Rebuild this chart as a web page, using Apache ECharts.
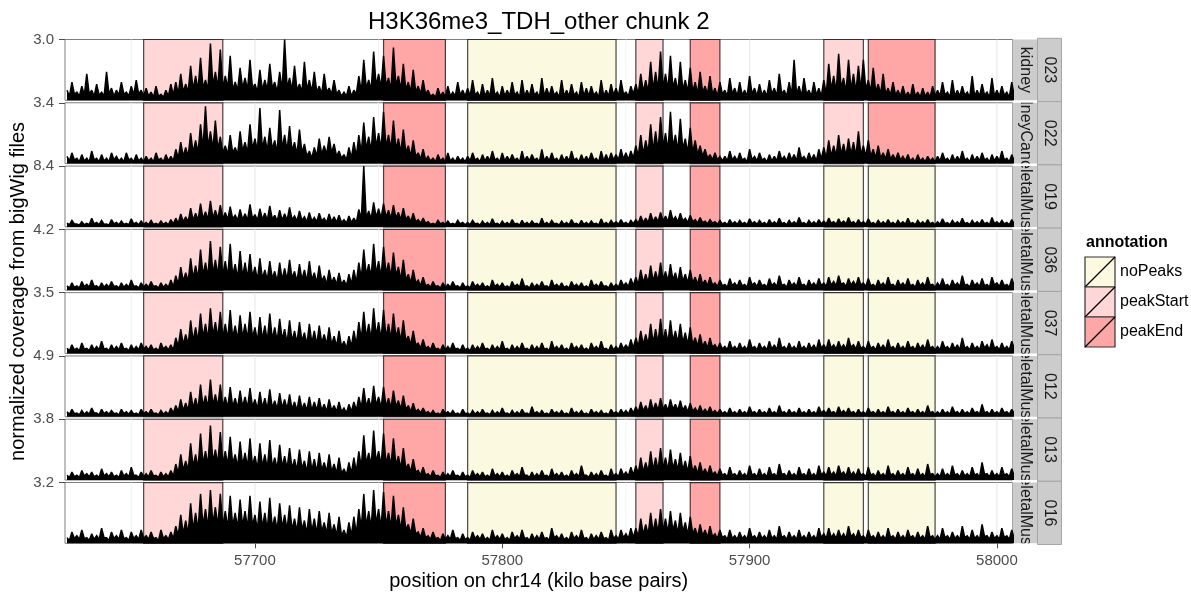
<!DOCTYPE html>
<html><head><meta charset="utf-8">
<script src="https://cdn.jsdelivr.net/npm/echarts@6/dist/echarts.min.js"></script>
<style>html,body{margin:0;padding:0;background:#fff}#c{width:1191px;height:592px}</style>
</head><body><div id="c"></div>
<script>
// ---------------- data ----------------
const chartTitle = 'H3K36me3_TDH_other chunk 2';
const xTitle = 'position on chr14 (kilo base pairs)';
const yTitle = 'normalized coverage from bigWig files';
const sampleIds = ['023','022','019','036','037','012','013','016'];
const tissues = ['kidney','kidneyCancer','skeletalMuscle','skeletalMuscle','skeletalMuscle','skeletalMuscle','skeletalMuscle','skeletalMuscle'];
const yMax = [3.0, 3.4, 8.4, 4.2, 3.5, 4.9, 3.8, 3.2];
const yTickLabels = ['3.0','3.4','8.4','4.2','3.5','4.9','3.8','3.2'];
const xTicks = [57700, 57800, 57900, 58000];
const xMinorGrid = [57650, 57750, 57850, 57950];
const peakStart0 = 57624, troughStart0 = 57625, binStep = 2; // kb positions of local peaks / troughs

const annoStart = [57655, 57752, 57786, 57854, 57876, 57930, 57948];
const annoEnd   = [57687, 57777, 57846, 57865, 57888, 57946, 57975];
const annoKidney = ['peakStart','peakEnd','noPeaks','peakStart','peakEnd','peakStart','peakEnd'];
const annoMuscle = ['peakStart','peakEnd','noPeaks','peakStart','peakEnd','noPeaks','noPeaks'];
const legendNames = ['noPeaks','peakStart','peakEnd'];

// local peak values (every 2 kb)
const cov023 = [0.5,0.9,0.4,0.7,1.3,0.5,0.8,0.4,1.4,0.6,0.5,0.9,0.4,0.7,1.0,0.5,
 0.6,0.4,0.7,0.3,0.5,0.8,
 0.9,1.3,0.8,1.7,1.2,2.1,1.0,2.8,1.4,2.5,
 1.2,2.2,0.9,1.6,1.1,2.0,0.8,1.5,1.0,1.8,0.9,1.4,3.0,1.1,1.7,0.8,1.9,1.0,1.4,0.7,1.3,0.6,1.0,0.5,
 0.4,0.7,0.5,
 1.2,2.0,1.0,2.4,1.3,2.2,1.1,2.6,1.2,1.8,0.9,1.5,0.7,1.0,
 0.5,0.3,0.6,0.4,0.7,0.4,0.9,0.5,
 0.6,1.0,0.4,0.8,0.5,1.1,0.4,0.7,0.5,0.9,0.4,1.0,0.5,0.8,0.4,1.1,0.6,0.7,0.4,1.0,0.5,0.8,0.4,0.9,0.6,0.7,0.4,1.0,0.5,0.8,
 0.6,1.0,0.4,0.7,
 0.8,1.3,1.0,1.9,1.4,
 2.4,1.3,2.2,1.1,1.9,1.0,1.6,
 0.9,1.4,0.7,1.2,0.6,0.9,
 0.5,1.1,0.6,0.9,0.5,1.2,0.6,0.8,0.5,1.0,0.6,1.3,0.5,0.9,2.0,0.7,1.1,0.5,0.9,0.6,
 1.0,1.8,1.2,2.3,1.1,2.0,1.3,1.7,
 2.0,1.0,1.6,0.8,1.3,0.6,0.9,0.5,0.7,0.4,0.8,0.4,0.6,0.4,0.7,
 0.5,0.9,0.4,1.0,0.5,0.7,0.4,1.2,0.5,0.8,0.4,1.1,0.5,0.7,0.4,0.9];
const cov022 = [0.4,0.6,0.3,0.5,0.3,0.7,0.3,0.5,0.3,0.6,0.4,0.3,0.6,0.3,0.5,0.3,
 0.4,0.3,0.6,0.3,0.5,0.4,
 0.8,1.2,0.9,1.7,1.3,2.2,3.2,1.8,2.4,1.5,
 1.0,1.6,0.9,1.8,1.2,2.2,1.4,3.1,1.5,2.0,1.3,3.0,1.6,2.1,1.2,1.9,1.1,0.7,0.9,1.4,1.0,1.5,1.1,0.7,
 0.5,0.9,1.2,
 1.6,2.3,1.5,2.6,1.7,2.9,1.6,2.4,1.4,1.9,1.0,1.3,0.6,0.8,
 0.4,0.3,0.5,0.3,0.6,0.3,0.4,0.3,
 0.4,0.6,0.3,0.5,0.4,0.7,0.3,0.6,0.4,0.5,0.3,0.7,0.4,0.5,0.3,0.8,0.4,0.6,0.3,0.5,0.4,0.7,0.3,0.5,0.4,0.6,0.3,0.7,0.5,0.6,
 0.5,0.8,0.6,0.7,
 1.0,1.6,1.3,2.2,1.8,
 2.6,1.7,2.9,1.6,2.5,1.4,2.0,
 1.3,1.0,0.8,0.5,0.6,0.4,
 0.4,0.7,0.4,0.6,0.3,0.8,0.4,0.6,0.3,0.5,0.4,0.7,0.4,0.6,0.5,0.9,0.4,0.6,0.5,0.8,
 0.9,1.3,1.0,1.6,1.1,1.4,1.2,1.8,
 1.0,1.3,0.8,1.0,0.6,0.8,0.5,0.6,0.4,0.5,0.3,0.5,0.3,0.4,0.3,
 0.4,0.6,0.3,0.5,0.4,0.7,0.3,0.5,0.4,0.6,0.3,0.5,0.4,0.7,0.3,0.5];
const cov019 = [0.5,0.9,0.4,0.7,0.5,1.2,0.6,0.9,0.4,1.0,0.6,0.8,0.5,1.1,0.6,0.8,
 0.6,0.9,0.5,0.8,0.6,1.0,
 1.2,1.8,1.4,2.6,1.9,3.2,2.1,3.6,2.3,3.0,
 2.0,2.8,1.6,2.4,1.8,3.1,1.7,2.5,1.9,2.9,1.6,2.3,1.8,2.7,1.5,2.2,1.4,2.0,1.3,1.9,1.2,1.8,1.4,1.6,
 1.0,1.5,1.2,
 2.4,8.4,2.2,3.4,2.5,3.2,2.3,3.0,2.0,2.6,1.5,1.9,1.0,1.2,
 0.7,0.5,0.9,0.6,0.8,0.5,0.9,0.6,
 0.6,0.9,0.5,0.8,0.6,1.1,0.5,0.8,0.6,1.0,0.5,0.9,0.6,0.8,0.5,1.2,0.6,0.9,0.5,0.8,0.6,1.0,0.5,0.9,0.6,0.8,0.5,1.1,0.6,0.9,
 0.7,1.0,0.6,0.9,
 1.0,1.5,1.2,1.9,1.4,
 2.0,1.5,2.3,1.4,1.9,1.2,1.6,
 1.0,1.3,0.8,1.0,0.7,0.9,
 0.6,1.0,0.7,0.9,0.6,1.1,0.7,0.9,0.6,1.0,0.7,1.2,0.6,0.9,0.7,1.3,0.6,0.9,0.7,1.0,
 0.8,1.2,0.7,1.1,0.8,1.3,0.7,1.0,
 0.7,1.1,0.6,0.9,0.7,1.0,0.6,0.9,0.7,1.2,0.6,0.9,0.7,1.0,0.6,
 0.7,1.1,0.6,0.9,0.7,1.2,0.6,0.9,0.7,1.0,0.6,1.3,0.7,0.9,0.6,1.0];
const cov036 = [0.3,0.5,0.3,0.6,0.4,0.7,0.3,0.5,0.4,0.6,0.3,0.5,0.4,0.7,0.3,0.5,
 0.4,0.6,0.3,0.5,0.4,0.7,
 1.0,1.6,1.2,2.2,1.7,2.8,1.9,3.4,2.1,3.0,
 2.0,3.2,1.8,2.7,1.9,2.5,1.6,2.2,1.4,2.0,1.3,1.9,1.5,2.1,1.3,1.8,1.4,2.0,1.2,1.7,1.0,1.4,0.9,1.2,
 0.7,1.1,1.4,
 1.9,2.8,1.8,3.2,2.0,3.0,1.9,2.6,1.6,2.1,1.1,1.4,0.7,0.9,
 0.4,0.6,0.3,0.5,0.4,0.6,0.3,0.5,
 0.3,0.6,0.4,0.5,0.3,0.7,0.4,0.5,0.3,0.6,0.4,0.8,0.3,0.5,0.4,0.6,0.3,0.7,0.4,0.5,0.3,0.6,0.4,0.5,0.3,0.7,0.4,0.6,0.3,0.5,
 0.4,0.7,0.5,0.8,
 0.9,1.4,1.1,1.7,1.3,
 1.9,1.3,1.8,1.2,1.6,1.1,1.4,
 0.9,1.1,0.7,0.9,0.5,0.7,
 0.4,0.8,0.5,0.7,0.4,0.9,0.5,0.7,0.4,0.8,0.5,1.0,0.4,0.7,0.5,0.9,0.4,0.7,0.5,0.8,
 0.5,0.9,0.6,1.0,0.5,0.8,0.6,0.9,
 0.5,0.8,0.4,0.7,0.5,0.9,0.4,0.7,0.5,0.8,0.4,0.7,0.5,0.9,0.4,
 0.5,0.8,0.4,0.7,0.5,1.0,0.4,0.7,0.5,0.8,0.4,0.9,0.5,0.7,0.4,0.8];
const cov037 = [0.3,0.5,0.3,0.6,0.3,0.5,0.4,0.7,0.3,0.5,0.4,0.6,0.3,0.5,0.4,0.6,
 0.4,0.5,0.3,0.6,0.4,0.5,
 0.9,1.4,1.1,1.9,1.5,2.3,1.7,2.6,1.8,2.4,
 1.7,2.5,1.6,2.2,1.7,2.4,1.5,2.1,1.6,2.3,1.5,2.0,1.4,1.9,1.3,1.8,1.2,1.7,1.3,1.6,1.1,1.5,1.0,1.3,
 0.7,1.0,1.3,
 1.8,2.4,1.7,2.6,1.8,2.5,1.7,2.3,1.5,1.9,1.0,1.3,0.6,0.8,
 0.4,0.6,0.3,0.5,0.4,0.6,0.3,0.5,
 0.3,0.5,0.4,0.6,0.3,0.5,0.4,0.7,0.3,0.5,0.4,0.6,0.3,0.5,0.4,0.6,0.3,0.7,0.4,0.5,0.3,0.6,0.4,0.5,0.3,0.6,0.4,0.7,0.3,0.5,
 0.4,0.6,0.5,0.8,
 0.9,1.3,1.1,1.7,1.4,
 2.0,1.4,1.9,1.3,1.7,1.2,1.5,
 0.9,1.1,0.7,0.9,0.5,0.6,
 0.4,0.7,0.4,0.6,0.4,0.8,0.4,0.6,0.4,0.7,0.5,0.9,0.4,0.6,0.4,0.7,0.4,0.6,0.5,0.8,
 0.5,0.8,0.5,0.7,0.5,0.9,0.5,0.7,
 0.4,0.7,0.4,0.6,0.5,0.8,0.4,0.6,0.4,0.7,0.4,0.6,0.5,0.8,0.4,
 0.4,0.7,0.4,0.6,0.5,0.9,0.4,0.6,0.4,0.7,0.5,0.8,0.4,0.6,0.4,0.7];
const cov012 = [0.4,0.6,0.3,0.5,0.4,0.7,0.3,0.6,0.4,0.5,0.3,0.6,0.4,0.5,0.3,0.6,
 0.4,0.6,0.3,0.5,0.4,0.7,
 0.9,1.4,1.1,2.0,1.5,2.6,1.7,3.0,1.8,2.6,
 1.6,2.4,1.5,2.1,1.6,2.3,1.4,2.0,1.5,2.2,1.3,1.9,1.4,1.8,1.2,1.7,1.1,1.6,1.2,1.5,1.0,1.4,0.9,1.2,
 0.7,1.0,1.2,
 1.6,2.3,1.5,2.5,1.6,2.4,1.5,2.1,1.3,1.7,0.9,1.1,0.6,0.7,
 0.4,0.5,0.3,0.6,0.4,0.5,0.3,0.6,
 0.3,0.5,0.4,0.6,0.3,0.5,0.4,0.7,0.3,0.5,0.4,0.6,0.3,0.8,0.4,0.5,0.3,0.6,0.4,0.5,0.3,0.7,0.4,0.5,0.3,0.6,0.4,0.5,0.3,0.6,
 0.4,0.6,0.5,0.7,
 0.8,1.2,0.9,1.4,1.1,
 1.5,1.0,1.4,1.0,1.3,0.9,1.1,
 0.7,0.9,0.6,0.8,0.5,0.6,
 0.4,0.7,0.4,0.6,0.4,0.8,0.4,0.6,0.4,0.7,0.4,0.9,0.4,0.6,0.4,0.7,0.4,0.6,0.4,0.8,
 0.5,0.7,0.4,0.8,0.5,0.7,0.4,0.6,
 0.4,0.7,0.4,0.6,0.4,0.8,0.4,0.6,0.4,0.7,0.4,0.6,0.4,0.9,0.4,
 0.4,0.6,0.4,0.8,0.4,0.6,0.4,0.7,0.4,1.0,0.4,0.6,0.4,0.7,0.4,0.6];
const cov013 = [0.3,0.5,0.3,0.6,0.4,0.5,0.3,0.7,0.4,0.5,0.3,0.6,0.4,0.8,0.3,0.5,
 0.4,0.6,0.3,0.5,0.4,0.6,
 1.0,1.6,1.2,2.3,1.6,2.9,1.8,3.4,1.9,3.0,
 1.8,2.7,1.6,2.4,1.7,2.6,1.5,2.3,1.6,2.5,1.4,2.2,1.5,2.0,1.3,1.9,1.2,1.8,1.3,1.7,1.1,1.6,1.0,1.4,
 0.7,1.1,1.4,
 1.8,2.8,1.7,3.1,1.8,2.9,1.7,2.6,1.5,2.0,1.0,1.3,0.6,0.8,
 0.4,0.6,0.3,0.5,0.4,0.6,0.3,0.5,
 0.3,0.6,0.4,0.5,0.3,0.7,0.4,0.5,0.3,0.6,0.4,0.8,0.3,0.5,0.4,0.6,0.3,0.7,0.4,0.5,0.3,0.6,0.4,0.9,0.3,0.5,0.4,0.6,0.3,0.7,
 0.4,0.7,0.5,0.8,
 0.9,1.4,1.1,1.8,1.4,
 2.0,1.4,1.9,1.3,1.7,1.2,1.5,
 0.9,1.1,0.7,0.9,0.5,0.7,
 0.4,0.8,0.4,0.6,0.4,0.9,0.4,0.7,0.4,0.8,0.4,1.0,0.4,0.6,0.4,0.8,0.4,0.7,0.4,0.9,
 0.5,0.8,0.5,0.9,0.5,0.8,0.5,0.7,
 0.4,0.8,0.4,0.6,0.4,0.9,0.4,0.6,0.4,0.8,0.4,0.7,0.4,1.0,0.4,
 0.4,0.7,0.4,0.9,0.4,0.6,0.4,0.8,0.4,1.1,0.4,0.6,0.4,0.8,0.4,0.7];
const cov016 = [0.3,0.6,0.4,0.7,0.3,0.5,0.4,0.8,0.3,0.6,0.4,0.7,0.3,0.6,0.4,0.7,
 0.4,0.6,0.3,0.7,0.4,0.6,
 0.9,1.5,1.2,2.1,1.6,2.6,1.8,2.8,1.9,2.6,
 1.7,2.5,1.6,2.3,1.7,2.5,1.5,2.2,1.6,2.4,1.4,2.1,1.5,2.0,1.3,1.9,1.2,1.8,1.3,1.7,1.1,1.6,1.0,1.4,
 0.7,1.1,1.4,
 1.8,2.6,1.7,2.8,1.8,2.7,1.7,2.5,1.5,1.9,1.0,1.3,0.6,0.8,
 0.4,0.6,0.3,0.5,0.4,0.7,0.3,0.5,
 0.3,0.6,0.4,0.5,0.3,0.7,0.4,0.5,0.3,0.6,0.4,0.7,0.3,0.5,0.4,0.6,0.3,0.8,0.4,0.5,0.3,0.6,0.4,0.7,0.3,0.5,0.4,0.6,0.3,0.7,
 0.4,0.7,0.5,0.8,
 0.8,1.3,1.0,1.6,1.3,
 1.8,1.3,1.7,1.2,1.6,1.1,1.4,
 0.8,1.0,0.7,0.9,0.5,0.7,
 0.4,0.7,0.4,0.6,0.4,0.8,0.4,0.6,0.4,0.7,0.4,0.9,0.4,0.6,0.4,0.7,0.4,0.6,0.4,0.8,
 0.5,0.8,0.5,0.7,0.5,0.9,0.5,0.7,
 0.4,0.7,0.4,0.6,0.4,0.8,0.4,0.6,0.4,0.7,0.4,0.6,0.4,0.9,0.4,
 0.4,0.8,0.4,0.6,0.4,0.9,0.4,0.7,0.4,1.0,0.4,0.6,0.4,0.8,0.4,0.7];

// local trough values (every 2 kb, offset 1 kb)
const tr023 = [0.2,0.3,0.2,0.25,0.3,0.2,0.25,0.2,0.3,0.2,0.25,0.3,0.2,0.25,0.3,0.2,
 0.2,0.15,0.2,0.15,0.2,0.25,
 0.3,0.4,0.4,0.5,0.5,0.6,0.5,0.7,0.6,0.6,
 0.6,0.5,0.5,0.6,0.5,0.6,0.4,0.5,0.5,0.6,0.4,0.5,0.6,0.5,0.5,0.4,0.5,0.4,0.4,0.3,0.4,0.3,0.3,0.2,
 0.2,0.2,0.3,
 0.4,0.6,0.5,0.7,0.6,0.7,0.5,0.7,0.5,0.5,0.4,0.4,0.3,0.3,
 0.2,0.15,0.2,0.15,0.2,0.2,0.25,0.2,
 0.2,0.25,0.15,0.2,0.2,0.25,0.15,0.2,0.2,0.25,0.15,0.2,0.2,0.25,0.15,0.2,0.2,0.25,0.15,0.2,0.2,0.25,0.15,0.2,0.2,0.25,0.15,0.2,0.2,0.25,
 0.2,0.3,0.2,0.3,
 0.3,0.4,0.4,0.5,0.5,
 0.6,0.5,0.6,0.4,0.5,0.4,0.4,
 0.3,0.4,0.3,0.3,0.2,0.3,
 0.2,0.3,0.2,0.25,0.2,0.3,0.2,0.25,0.2,0.3,0.2,0.3,0.2,0.25,0.3,0.2,0.3,0.2,0.25,0.2,
 0.3,0.5,0.4,0.6,0.4,0.5,0.4,0.5,
 0.5,0.4,0.4,0.3,0.3,0.25,0.25,0.2,0.2,0.15,0.2,0.15,0.2,0.15,0.2,
 0.2,0.25,0.15,0.2,0.2,0.25,0.15,0.2,0.2,0.25,0.15,0.2,0.2,0.25,0.15,0.2];
const tr022 = [0.15,0.2,0.1,0.15,0.1,0.2,0.1,0.15,0.1,0.2,0.15,0.1,0.2,0.1,0.15,0.1,
 0.15,0.1,0.2,0.1,0.15,0.15,
 0.3,0.4,0.4,0.6,0.6,0.8,0.9,0.8,0.8,0.6,
 0.5,0.6,0.5,0.7,0.6,0.8,0.7,0.8,0.7,0.8,0.6,0.8,0.7,0.7,0.5,0.6,0.4,0.3,0.4,0.5,0.5,0.6,0.4,0.3,
 0.2,0.3,0.4,
 0.6,0.8,0.7,0.9,0.8,0.9,0.8,0.8,0.6,0.6,0.4,0.4,0.25,0.2,
 0.15,0.1,0.15,0.1,0.15,0.1,0.15,0.1,
 0.15,0.2,0.1,0.15,0.15,0.2,0.1,0.15,0.15,0.2,0.1,0.15,0.15,0.2,0.1,0.15,0.15,0.2,0.1,0.15,0.15,0.2,0.1,0.15,0.15,0.2,0.1,0.15,0.15,0.2,
 0.2,0.25,0.2,0.3,
 0.4,0.5,0.6,0.7,0.7,
 0.9,0.7,0.9,0.7,0.8,0.6,0.6,
 0.5,0.4,0.3,0.2,0.2,0.15,
 0.15,0.2,0.15,0.2,0.1,0.2,0.15,0.2,0.1,0.15,0.15,0.2,0.15,0.2,0.15,0.25,0.15,0.2,0.15,0.25,
 0.3,0.4,0.4,0.5,0.4,0.5,0.4,0.5,
 0.4,0.4,0.3,0.3,0.25,0.25,0.2,0.2,0.15,0.15,0.1,0.15,0.1,0.15,0.1,
 0.15,0.2,0.1,0.15,0.15,0.2,0.1,0.15,0.15,0.2,0.1,0.15,0.15,0.2,0.1,0.15];
const tr019 = [0.3,0.4,0.25,0.3,0.3,0.4,0.3,0.35,0.25,0.4,0.3,0.35,0.3,0.4,0.3,0.35,
 0.3,0.35,0.3,0.35,0.3,0.4,
 0.5,0.7,0.7,0.9,0.9,1.1,1.0,1.2,1.1,1.1,
 1.0,1.1,0.9,1.0,0.9,1.1,0.9,1.0,0.9,1.1,0.8,0.9,0.9,1.0,0.8,0.9,0.7,0.8,0.7,0.8,0.6,0.7,0.6,0.6,
 0.5,0.6,0.6,
 1.0,1.2,1.1,1.3,1.2,1.3,1.1,1.2,1.0,1.0,0.7,0.7,0.5,0.5,
 0.35,0.3,0.4,0.3,0.35,0.3,0.4,0.3,
 0.3,0.4,0.25,0.35,0.3,0.4,0.25,0.35,0.3,0.4,0.25,0.35,0.3,0.4,0.25,0.35,0.3,0.4,0.25,0.35,0.3,0.4,0.25,0.35,0.3,0.4,0.25,0.35,0.3,0.4,
 0.35,0.4,0.3,0.4,
 0.5,0.6,0.6,0.7,0.7,
 0.8,0.7,0.9,0.7,0.8,0.6,0.7,
 0.5,0.6,0.4,0.5,0.35,0.4,
 0.3,0.4,0.35,0.4,0.3,0.45,0.35,0.4,0.3,0.4,0.35,0.45,0.3,0.4,0.35,0.45,0.3,0.4,0.35,0.4,
 0.4,0.5,0.35,0.45,0.4,0.5,0.35,0.45,
 0.35,0.45,0.3,0.4,0.35,0.4,0.3,0.4,0.35,0.45,0.3,0.4,0.35,0.4,0.3,
 0.35,0.45,0.3,0.4,0.35,0.45,0.3,0.4,0.35,0.4,0.3,0.45,0.35,0.4,0.3,0.4];
const tr036 = [0.15,0.2,0.15,0.25,0.2,0.25,0.15,0.2,0.2,0.25,0.15,0.2,0.2,0.25,0.15,0.2,
 0.2,0.25,0.15,0.2,0.2,0.25,
 0.4,0.6,0.6,0.8,0.8,1.0,0.9,1.1,1.0,1.0,
 0.9,1.0,0.8,0.9,0.8,0.9,0.7,0.8,0.7,0.8,0.6,0.7,0.7,0.8,0.6,0.7,0.6,0.7,0.5,0.6,0.4,0.5,0.4,0.4,
 0.3,0.4,0.5,
 0.8,1.0,0.9,1.1,0.9,1.1,0.9,1.0,0.7,0.7,0.5,0.5,0.3,0.3,
 0.2,0.25,0.15,0.2,0.2,0.25,0.15,0.2,
 0.15,0.25,0.2,0.2,0.15,0.25,0.2,0.2,0.15,0.25,0.2,0.25,0.15,0.2,0.2,0.25,0.15,0.25,0.2,0.2,0.15,0.25,0.2,0.2,0.15,0.25,0.2,0.25,0.15,0.2,
 0.2,0.3,0.25,0.3,
 0.4,0.5,0.5,0.6,0.6,
 0.7,0.6,0.7,0.5,0.6,0.5,0.5,
 0.4,0.4,0.3,0.35,0.25,0.3,
 0.2,0.3,0.25,0.3,0.2,0.35,0.25,0.3,0.2,0.3,0.25,0.35,0.2,0.3,0.25,0.35,0.2,0.3,0.25,0.3,
 0.25,0.35,0.3,0.4,0.25,0.35,0.3,0.35,
 0.25,0.3,0.2,0.3,0.25,0.35,0.2,0.3,0.25,0.3,0.2,0.3,0.25,0.35,0.2,
 0.25,0.3,0.2,0.3,0.25,0.35,0.2,0.3,0.25,0.3,0.2,0.35,0.25,0.3,0.2,0.3];
const tr037 = [0.15,0.2,0.15,0.25,0.15,0.2,0.2,0.25,0.15,0.2,0.2,0.25,0.15,0.2,0.2,0.25,
 0.2,0.2,0.15,0.25,0.2,0.2,
 0.4,0.5,0.5,0.7,0.7,0.9,0.8,1.0,0.9,0.9,
 0.8,0.9,0.8,0.9,0.8,0.9,0.7,0.8,0.7,0.8,0.7,0.8,0.6,0.7,0.6,0.7,0.5,0.6,0.5,0.6,0.5,0.5,0.4,0.4,
 0.3,0.4,0.5,
 0.8,0.9,0.8,1.0,0.8,0.9,0.8,0.9,0.7,0.7,0.5,0.5,0.3,0.3,
 0.2,0.25,0.15,0.2,0.2,0.25,0.15,0.2,
 0.15,0.2,0.2,0.25,0.15,0.2,0.2,0.25,0.15,0.2,0.2,0.25,0.15,0.2,0.2,0.25,0.15,0.25,0.2,0.2,0.15,0.25,0.2,0.2,0.15,0.25,0.2,0.25,0.15,0.2,
 0.2,0.25,0.25,0.3,
 0.4,0.5,0.5,0.6,0.6,
 0.7,0.6,0.7,0.6,0.6,0.5,0.5,
 0.4,0.4,0.3,0.35,0.25,0.25,
 0.2,0.25,0.2,0.25,0.2,0.3,0.2,0.25,0.2,0.25,0.2,0.3,0.2,0.25,0.2,0.25,0.2,0.25,0.2,0.3,
 0.25,0.3,0.25,0.3,0.25,0.35,0.25,0.3,
 0.2,0.3,0.2,0.25,0.2,0.3,0.2,0.25,0.2,0.3,0.2,0.25,0.2,0.3,0.2,
 0.2,0.3,0.2,0.25,0.2,0.3,0.2,0.25,0.2,0.3,0.2,0.3,0.2,0.25,0.2,0.3];
const tr012 = [0.2,0.25,0.15,0.2,0.2,0.3,0.15,0.25,0.2,0.25,0.15,0.25,0.2,0.2,0.15,0.25,
 0.2,0.25,0.15,0.2,0.2,0.3,
 0.4,0.5,0.5,0.7,0.6,0.8,0.7,0.9,0.8,0.8,
 0.7,0.8,0.7,0.8,0.7,0.8,0.6,0.7,0.6,0.7,0.6,0.7,0.6,0.6,0.5,0.6,0.5,0.5,0.5,0.5,0.4,0.5,0.4,0.4,
 0.3,0.4,0.5,
 0.7,0.8,0.7,0.9,0.7,0.8,0.7,0.8,0.6,0.6,0.4,0.4,0.3,0.3,
 0.2,0.2,0.15,0.25,0.2,0.2,0.15,0.25,
 0.15,0.2,0.2,0.25,0.15,0.2,0.2,0.25,0.15,0.2,0.2,0.25,0.15,0.25,0.2,0.2,0.15,0.25,0.2,0.2,0.15,0.25,0.2,0.2,0.15,0.25,0.2,0.2,0.15,0.25,
 0.2,0.25,0.2,0.3,
 0.35,0.45,0.4,0.5,0.5,
 0.6,0.5,0.6,0.5,0.5,0.4,0.45,
 0.35,0.35,0.3,0.3,0.25,0.25,
 0.2,0.25,0.2,0.25,0.2,0.3,0.2,0.25,0.2,0.25,0.2,0.3,0.2,0.25,0.2,0.25,0.2,0.25,0.2,0.3,
 0.25,0.3,0.2,0.3,0.25,0.3,0.2,0.25,
 0.2,0.3,0.2,0.25,0.2,0.3,0.2,0.25,0.2,0.3,0.2,0.25,0.2,0.3,0.2,
 0.2,0.25,0.2,0.3,0.2,0.25,0.2,0.3,0.2,0.3,0.2,0.25,0.2,0.3,0.2,0.25];
const tr013 = [0.15,0.2,0.15,0.25,0.2,0.2,0.15,0.25,0.2,0.2,0.15,0.25,0.2,0.3,0.15,0.2,
 0.2,0.25,0.15,0.2,0.2,0.25,
 0.4,0.6,0.6,0.8,0.7,1.0,0.9,1.1,1.0,1.0,
 0.9,1.0,0.8,0.9,0.8,0.9,0.7,0.8,0.7,0.8,0.7,0.8,0.7,0.7,0.6,0.7,0.5,0.6,0.5,0.6,0.5,0.5,0.4,0.4,
 0.3,0.4,0.5,
 0.8,1.0,0.9,1.1,0.9,1.0,0.9,0.9,0.7,0.7,0.5,0.5,0.3,0.3,
 0.2,0.25,0.15,0.2,0.2,0.25,0.15,0.2,
 0.15,0.25,0.2,0.2,0.15,0.25,0.2,0.2,0.15,0.25,0.2,0.3,0.15,0.2,0.2,0.25,0.15,0.25,0.2,0.2,0.15,0.25,0.2,0.3,0.15,0.2,0.2,0.25,0.15,0.25,
 0.2,0.3,0.25,0.3,
 0.4,0.5,0.5,0.6,0.6,
 0.7,0.6,0.7,0.6,0.6,0.5,0.5,
 0.4,0.4,0.3,0.35,0.25,0.3,
 0.2,0.3,0.2,0.25,0.2,0.3,0.2,0.25,0.2,0.3,0.2,0.35,0.2,0.25,0.2,0.3,0.2,0.25,0.2,0.3,
 0.25,0.3,0.25,0.35,0.25,0.3,0.25,0.3,
 0.2,0.3,0.2,0.25,0.2,0.3,0.2,0.25,0.2,0.3,0.2,0.25,0.2,0.35,0.2,
 0.2,0.25,0.2,0.3,0.2,0.25,0.2,0.3,0.2,0.35,0.2,0.25,0.2,0.3,0.2,0.25];
const tr016 = [0.15,0.25,0.2,0.25,0.15,0.2,0.2,0.3,0.15,0.25,0.2,0.25,0.15,0.25,0.2,0.25,
 0.2,0.25,0.15,0.25,0.2,0.25,
 0.4,0.5,0.5,0.7,0.7,0.9,0.8,1.0,0.9,0.9,
 0.8,0.9,0.8,0.9,0.8,0.9,0.7,0.8,0.7,0.8,0.7,0.8,0.7,0.7,0.6,0.7,0.5,0.6,0.5,0.6,0.5,0.5,0.4,0.4,
 0.3,0.4,0.5,
 0.8,0.9,0.8,1.0,0.8,0.9,0.8,0.9,0.7,0.7,0.5,0.5,0.3,0.3,
 0.2,0.25,0.15,0.2,0.2,0.25,0.15,0.2,
 0.15,0.25,0.2,0.2,0.15,0.25,0.2,0.2,0.15,0.25,0.2,0.25,0.15,0.2,0.2,0.25,0.15,0.3,0.2,0.2,0.15,0.25,0.2,0.25,0.15,0.2,0.2,0.25,0.15,0.25,
 0.2,0.3,0.25,0.3,
 0.35,0.45,0.45,0.55,0.55,
 0.65,0.55,0.65,0.5,0.6,0.45,0.5,
 0.35,0.4,0.3,0.35,0.25,0.3,
 0.2,0.25,0.2,0.25,0.2,0.3,0.2,0.25,0.2,0.25,0.2,0.3,0.2,0.25,0.2,0.25,0.2,0.25,0.2,0.3,
 0.25,0.3,0.25,0.3,0.25,0.35,0.25,0.3,
 0.2,0.3,0.2,0.25,0.2,0.3,0.2,0.25,0.2,0.3,0.2,0.25,0.2,0.3,0.2,
 0.2,0.3,0.2,0.25,0.2,0.3,0.2,0.25,0.2,0.35,0.2,0.25,0.2,0.3,0.2,0.25];

const peaks = [cov023, cov022, cov019, cov036, cov037, cov012, cov013, cov016];
const troughs = [tr023, tr022, tr019, tr036, tr037, tr012, tr013, tr016];

// ---------------- layout / style ----------------
const annoColors = {noPeaks:'#FBF9DF', peakStart:'#FFD7D7', peakEnd:'#FFA6A6'};
const FONT = '"Liberation Sans", Arial, Helvetica, sans-serif';
const L = 65, R = 1012.5, T0 = 39.5, P = 63.29, H = 60.8;
const xMin = 57623.2, xMax = 58006.3;
const S1 = 25, S2 = 24; // strip widths

const chart = echarts.init(document.getElementById('c'), null, {renderer:'canvas'});
const grids = [], xAxes = [], yAxes = [], series = [], graphics = [];

for (let i = 0; i < 8; i++) {
  const top = T0 + i * P;
  grids.push({left:L, top:top, width:R - L, height:H, show:true, backgroundColor:'#fff',
    borderColor:'#7f7f7f', borderWidth:1, outerBoundsMode:'none'});
  const last = i === 7;
  xAxes.push({gridIndex:i, type:'value', min:xMin, max:xMax,
    axisLine:{show:false}, splitLine:{show:false},
    axisTick:{show:last, customValues:xTicks, length:5, lineStyle:{color:'#4d4d4d', width:1}},
    axisLabel:{show:last, customValues:xTicks, formatter:v => String(v), color:'#4d4d4d', fontSize:15, fontFamily:FONT, margin:10}});
  yAxes.push({gridIndex:i, type:'value', min:0, max:yMax[i],
    axisLine:{show:false}, splitLine:{show:false},
    axisTick:{show:true, customValues:[yMax[i]], length:6, lineStyle:{color:'#4d4d4d', width:1}},
    axisLabel:{show:true, customValues:[yMax[i]], formatter:() => yTickLabels[i],
      color:'#4d4d4d', fontSize:15, fontFamily:FONT, margin:11}});
  const annoTypes = i < 2 ? annoKidney : annoMuscle;
  const gl = xMinorGrid.map(v => [v, 0]).concat(xTicks.map(v => [v, 0]));
  series.push({type:'custom', xAxisIndex:i, yAxisIndex:i, silent:true, animation:false, z:1,
    data: gl,
    renderItem:(params, api) => {
      const x = api.coord([api.value(0), 0])[0];
      const cs = params.coordSys;
      const major = params.dataIndex >= xMinorGrid.length;
      return {type:'line', shape:{x1:x, y1:cs.y, x2:x, y2:cs.y + cs.height},
        style:{stroke: major ? '#e6e6e6' : '#f3f3f3', lineWidth:1}};
    }});
  series.push({type:'custom', xAxisIndex:i, yAxisIndex:i, silent:true, animation:false, z:2,
    data: annoStart.map(s => [s, 0]),
    renderItem:(params, api) => {
      const k = params.dataIndex;
      const x1 = api.coord([annoStart[k], 0])[0];
      const x2 = api.coord([annoEnd[k], 0])[0];
      const cs = params.coordSys;
      return {type:'rect', shape:{x:x1, y:cs.y, width:x2 - x1, height:cs.height},
        style:{fill:annoColors[annoTypes[k]], stroke:'rgba(0,0,0,0.72)', lineWidth:1.2}};
    }});
  const pk = peaks[i], tr = troughs[i], pts = [];
  for (let k = 0; k < pk.length; k++) {
    pts.push([peakStart0 + k * binStep, pk[k]]);
    if (tr[k] !== undefined) pts.push([troughStart0 + k * binStep, tr[k]]);
  }
  series.push({type:'line', xAxisIndex:i, yAxisIndex:i, silent:true, animation:false, z:5,
    data: pts, symbol:'none', showSymbol:false, clip:true,
    lineStyle:{color:'#000', width:1.5, join:'miter', miterLimit:2},
    areaStyle:{color:'#000', opacity:1, origin:'start'}});
}

for (let i = 0; i < 8; i++) {
  const top = T0 + i * P;
  grids.push({left:R, top:top, width:S1, height:H, show:false, outerBoundsMode:'none'});
  xAxes.push({gridIndex:8 + i, type:'value', min:0, max:1, show:false});
  yAxes.push({gridIndex:8 + i, type:'value', min:0, max:1, show:false});
  series.push({type:'custom', xAxisIndex:8 + i, yAxisIndex:8 + i, silent:true, animation:false, clip:true, z:3,
    data:[[0.5, 0.5]],
    renderItem:(params, api) => {
      const cs = params.coordSys;
      return {type:'group', children:[
        {type:'rect', shape:{x:cs.x, y:cs.y - 1.2, width:cs.width, height:cs.height + 2.4},
          style:{fill:'#cccccc', stroke:'#a6a6a6', lineWidth:1}},
        {type:'text', x:cs.x + cs.width / 2, y:cs.y + cs.height / 2, rotation:-Math.PI / 2,
          style:{text:tissues[i], fill:'#1a1a1a', fontSize:16, fontFamily:FONT, align:'center', verticalAlign:'middle'}}
      ]};
    }});
  graphics.push({type:'rect', shape:{x:R + S1, y:top - 1.2, width:S2, height:H + 2.4},
    style:{fill:'#cccccc', stroke:'#a6a6a6', lineWidth:1}, z:3});
  graphics.push({type:'text', x:R + S1 + S2 / 2, y:top + H / 2, rotation:-Math.PI / 2,
    style:{text:sampleIds[i], fill:'#1a1a1a', fontSize:16, fontFamily:FONT, align:'center', verticalAlign:'middle'}, z:4});
}

graphics.push({type:'text', x:(L + R) / 2, y:22, style:{text:chartTitle, fill:'#000', fontSize:24, fontFamily:FONT, align:'center', verticalAlign:'middle'}});
graphics.push({type:'text', x:(L + R) / 2, y:581, style:{text:xTitle, fill:'#000', fontSize:20, fontFamily:FONT, align:'center', verticalAlign:'middle'}});
graphics.push({type:'text', x:18, y:T0 + (8 * P - 2.5) / 2, rotation:Math.PI / 2,
  style:{text:yTitle, fill:'#000', fontSize:20, fontFamily:FONT, align:'center', verticalAlign:'middle'}});

const LX = 1085, LY = 257, KS = 30;
graphics.push({type:'text', x:LX + 1, y:243, style:{text:'annotation', fill:'#000', fontSize:16, fontWeight:'bold', fontFamily:FONT, align:'left', verticalAlign:'middle'}});
legendNames.forEach((nm, k) => {
  const y = LY + k * KS;
  graphics.push({type:'rect', shape:{x:LX, y:y, width:KS, height:KS}, style:{fill:annoColors[nm], stroke:'#333', lineWidth:1.2}});
  graphics.push({type:'line', shape:{x1:LX, y1:y + KS, x2:LX + KS, y2:y}, style:{stroke:'#000', lineWidth:1.3}});
  graphics.push({type:'text', x:LX + KS + 5, y:y + KS / 2, style:{text:nm, fill:'#000', fontSize:16, fontFamily:FONT, align:'left', verticalAlign:'middle'}});
});

chart.setOption({
  backgroundColor:'#fff',
  animation:false,
  grid:grids, xAxis:xAxes, yAxis:yAxes, series:series,
  graphic:{elements:graphics}
});
</script></body></html>
